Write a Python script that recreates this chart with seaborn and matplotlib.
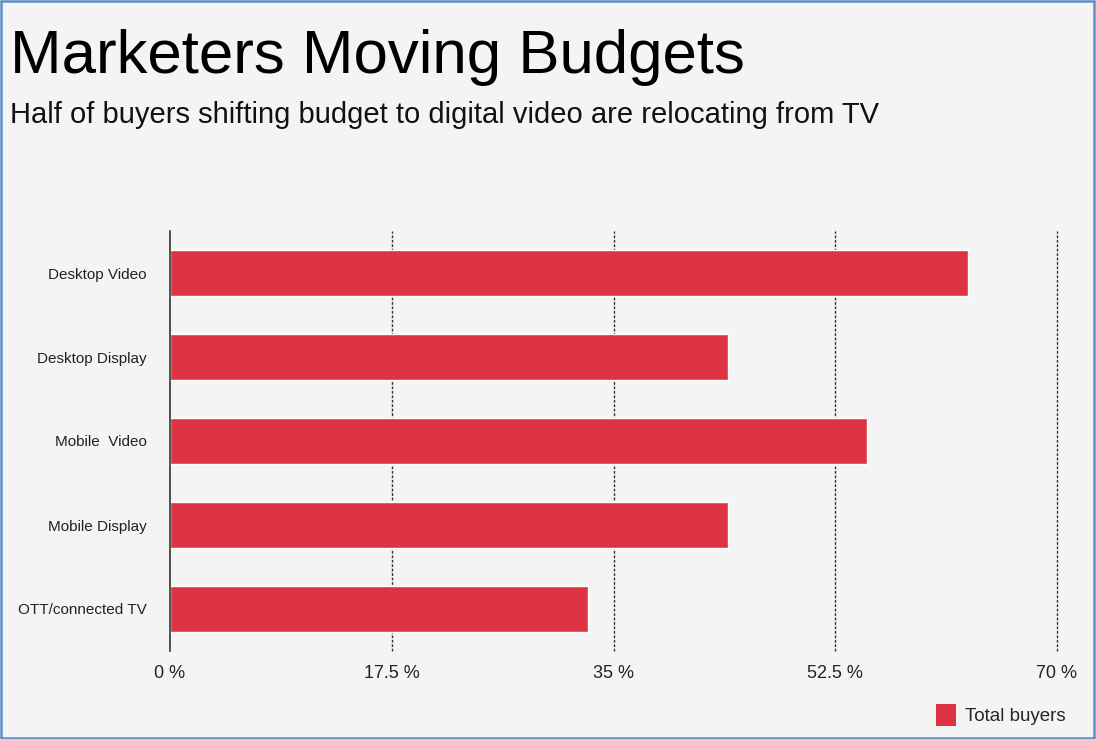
import matplotlib
matplotlib.use("Agg")
import matplotlib.pyplot as plt
import seaborn as sns
import pandas as pd
from matplotlib.patches import Rectangle, Patch

channels = ["Desktop Video", "Desktop Display", "Mobile  Video", "Mobile Display", "OTT/connected TV"]
total_buyers = [63, 44, 55, 44, 33]
x_ticks = [0, 17.5, 35, 52.5, 70]
x_tick_labels = ["0 %", "17.5 %", "35 %", "52.5 %", "70 %"]

BG = "#f4f4f4"
BAR = "#e03342"

sns.set_theme(style="white")
plt.rcParams["font.family"] = ["Liberation Sans", "DejaVu Sans"]

df = pd.DataFrame({"channel": channels, "share": total_buyers})

fig = plt.figure(figsize=(10.96, 7.39), dpi=100, facecolor=BG)
ax = fig.add_axes([170 / 1096, 1 - 651 / 739, (1057 - 170) / 1096, (651 - 231) / 739])
ax.set_facecolor(BG)

sns.barplot(data=df, y="channel", x="share", orient="h", color=BAR,
            width=0.55, saturation=1, ax=ax)

ax.set_xlim(0, 70)
ax.set_ylim(4.5, -0.5)
ax.set_xticks(x_ticks)
ax.set_xticklabels(x_tick_labels, fontsize=13, color="#222222")
ax.set_xlabel("")
ax.set_ylabel("")
ax.tick_params(axis="y", length=0, pad=17, labelsize=11, labelcolor="#222222")
ax.tick_params(axis="x", length=0, pad=10)

for s in ["top", "right", "bottom"]:
    ax.spines[s].set_visible(False)
ax.spines["left"].set_color("#333333")
ax.spines["left"].set_linewidth(1.2)

for v in x_ticks[1:]:
    ax.axvline(v, color="#333333", linestyle=(0, (2, 1.2)), linewidth=1.0,
               zorder=0, clip_on=False)

# title block
fig.text(10 / 1096, 1 - 57 / 739, "Marketers Moving Budgets", fontsize=44.5,
         color="#000000", va="center", ha="left")
fig.text(10 / 1096, 1 - 115 / 739,
         "Half of buyers shifting budget to digital video are relocating from TV",
         fontsize=21, color="#111111", va="center", ha="left")

# legend
fig.legend(handles=[Patch(facecolor=BAR, edgecolor="none", label="Total buyers")],
           loc="center right", bbox_to_anchor=(1073 / 1096, 1 - 715 / 739),
           frameon=False, fontsize=13.5, handlelength=1.05, handleheight=1.35,
           handletextpad=0.5, borderaxespad=0)

# outer frame
fig.patches.append(Rectangle((0.001, 0.001), 0.997, 0.997, transform=fig.transFigure,
                             fill=False, edgecolor="#5b8fc7", linewidth=1.8))

fig.savefig("out.png", dpi=100, facecolor=BG)
